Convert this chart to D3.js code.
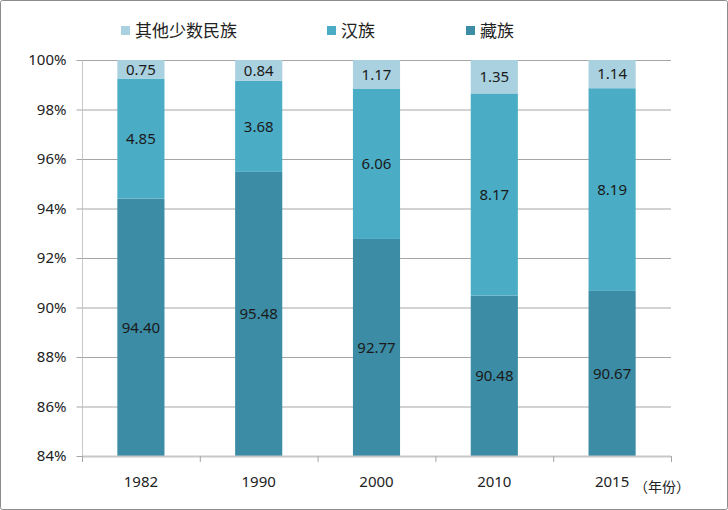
<!DOCTYPE html>
<html><head><meta charset="utf-8">
<script src="https://cdn.jsdelivr.net/npm/d3@7/dist/d3.min.js"></script>
<style>body{margin:0;background:#fff}svg{display:block}text{font-family:"Noto Sans","Noto Sans CJK SC",sans-serif}</style>
</head><body>
<svg id="c" width="728" height="510"></svg>
<script>
const years = ["1982","1990","2000","2010","2015"];
const tibetan = [94.40, 95.48, 92.77, 90.48, 90.67];
const han = [4.85, 3.68, 6.06, 8.17, 8.19];
const others = [0.75, 0.84, 1.17, 1.35, 1.14];
const seriesNames = ["藏族", "汉族", "其他少数民族"];
const yTicks = [84, 86, 88, 90, 92, 94, 96, 98, 100];
const colors = {"藏族":"#3b8ca4", "汉族":"#4bacc6", "其他少数民族":"#a9d1df"};

const svg = d3.select("#c");
svg.append("rect").attr("x",0.5).attr("y",0.5).attr("width",727).attr("height",509)
  .attr("fill","#fff").attr("stroke","#8c8c8c").attr("rx",2);

const mLeft = 82, mRight = 671, mTop = 60, mBottom = 456;
const x = d3.scaleBand().domain(years).range([mLeft, mRight]).paddingInner(0.6).paddingOuter(0.3);
const y = d3.scaleLinear().domain([84, 100]).range([mBottom, mTop]);

// gridlines
svg.append("g").selectAll("line").data(yTicks.filter(t=>t>84)).join("line")
  .attr("x1", mLeft).attr("x2", mRight).attr("y1", d=>y(d)+0.5).attr("y2", d=>y(d)+0.5)
  .attr("stroke","#a6a6a6").attr("stroke-width",1);

const rows = years.map((yr,i)=>({year:yr, "藏族":tibetan[i], "汉族":han[i], "其他少数民族":others[i]}));
const stack = d3.stack().keys(seriesNames)(rows);

const g = svg.append("g");
stack.forEach(layer=>{
  g.selectAll(null).data(layer).join("rect")
    .attr("x", d=>x(d.data.year))
    .attr("width", x.bandwidth())
    .attr("y", d=>y(Math.min(d[1],100)))
    .attr("height", d=>y(Math.max(d[0],84)) - y(Math.min(d[1],100)))
    .attr("fill", colors[layer.key]);
  g.selectAll(null).data(layer).join("text")
    .attr("x", d=>x(d.data.year)+x.bandwidth()/2)
    .attr("y", d=>(y(Math.max(d[0],84)) + y(Math.min(d[1],100)))/2)
    .attr("dy","0.35em").attr("text-anchor","middle")
    .attr("font-size",15).attr("fill","#1a1a1a")
    .text(d=>d.data[layer.key].toFixed(2));
});

// y axis
const ya = svg.append("g").attr("transform",`translate(${mLeft+0.5},0)`)
  .call(d3.axisLeft(y).tickValues(yTicks).tickFormat(d=>d+"%").tickSize(6).tickPadding(10));
ya.attr("font-size",15).attr("font-family",null);
ya.select(".domain").attr("stroke","#c8c8c8").attr("d",`M0,${mTop}V${mBottom}`);
ya.selectAll(".tick line").attr("stroke","#a6a6a6");
ya.selectAll(".tick text").attr("fill","#222");

// x axis
const xa = svg.append("g").attr("transform",`translate(0,${mBottom})`);
xa.append("line").attr("x1",mLeft).attr("x2",mRight).attr("y1",0.5).attr("y2",0.5).attr("stroke","#c8c8c8").attr("stroke-width",2);
const step = (mRight-mLeft)/years.length;
xa.selectAll("line.t").data(d3.range(years.length+1)).join("line").attr("class","t")
  .attr("x1",i=>mLeft+i*step+0.5).attr("x2",i=>mLeft+i*step+0.5).attr("y1",0).attr("y2",6).attr("stroke","#a6a6a6");
xa.selectAll("text").data(years).join("text")
  .attr("x",d=>x(d)+x.bandwidth()/2).attr("y",31).attr("text-anchor","middle")
  .attr("font-size",15).attr("fill","#222").text(d=>d);
svg.append("text").attr("x",634).attr("y",492).attr("font-size",14).attr("fill","#222")
  .style("font-family","'Noto Sans CJK SC',sans-serif").text("（年份）");

// legend
const legendItems = [["其他少数民族",121],["汉族",327],["藏族",466]];
const lg = svg.append("g");
legendItems.forEach(([k,lx])=>{
  lg.append("rect").attr("x",lx).attr("y",26).attr("width",9).attr("height",9).attr("fill",colors[k]);
  lg.append("text").attr("x",lx+14).attr("y",37).attr("font-size",17).attr("fill","#222")
    .style("font-family","'Noto Sans CJK SC',sans-serif").text(k);
});
</script>
</body></html>
